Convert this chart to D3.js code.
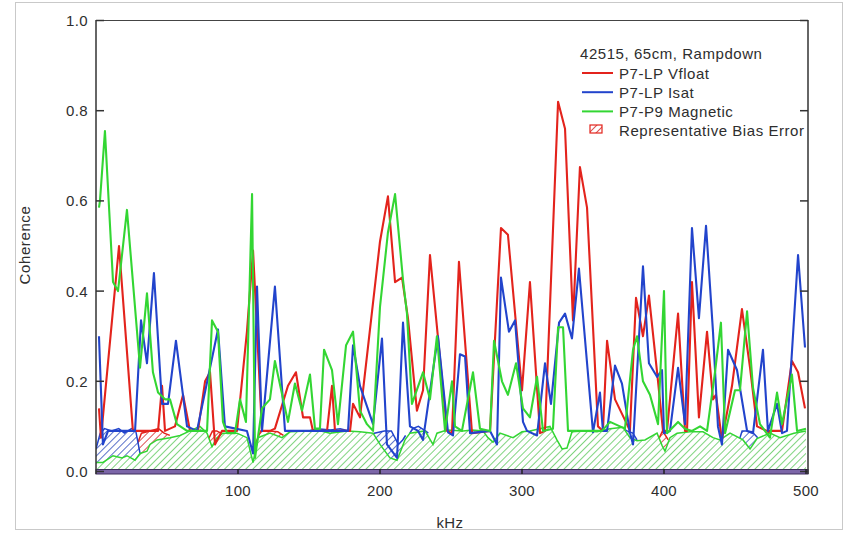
<!DOCTYPE html>
<html><head><meta charset="utf-8">
<script src="https://cdn.jsdelivr.net/npm/d3@7"></script>
<style>body{margin:0;background:#fff}svg{display:block}text{font-family:"Liberation Sans",Arial,sans-serif;fill:#2e2e2e}</style>
</head><body>
<script>
// ---- data (kHz, coherence) ----
const redKHz = [2.1,3.5,16.2,26,43.7,46.5,48.6,55.6,61.3,66.2,71.8,76.8,80.3,83.8,88.7,99.3,106.3,110.6,116.9,122.5,126,135.2,140.8,145.8,150.7,152.8,162.7,166.2,168.3,178.9,181,185.9,200,205.6,210.6,215.5,219.7,226,230.3,235.2,247.2,250.7,255.6,264.8,277.5,285.2,290.1,300,305.6,312.7,316.2,325.4,330.3,335.9,340.8,345.8,353.5,357,359.9,365.5,373.9,376,380.3,385.2,389.4,395.8,399.3,402.1,409.9,414.8,416.2,419.7,424.6,430.3,434.5,436.6,440.8,447.9,454.9,460.6,465.5,472.5,483.1,490.1,494.4,499.3];
const redCoh = [0.14,0.075,0.50,0.09,0.09,0.19,0.09,0.10,0.17,0.09,0.09,0.20,0.22,0.06,0.09,0.09,0.31,0.49,0.09,0.09,0.095,0.19,0.22,0.12,0.12,0.09,0.09,0.19,0.09,0.09,0.15,0.12,0.51,0.61,0.42,0.43,0.34,0.135,0.18,0.48,0.09,0.085,0.465,0.085,0.09,0.54,0.525,0.18,0.42,0.085,0.09,0.82,0.76,0.335,0.675,0.585,0.10,0.09,0.29,0.16,0.105,0.09,0.385,0.30,0.39,0.20,0.09,0.09,0.35,0.09,0.09,0.42,0.12,0.31,0.16,0.17,0.07,0.19,0.36,0.23,0.10,0.09,0.09,0.245,0.22,0.14];

const blueKHz = [2.1,4.9,8.5,27.5,31.7,35.9,40.8,46.5,50.7,56.3,64.1,71.1,85.9,90.8,106.3,110.6,113.4,116.9,126,133.1,177.5,181,185.9,195.1,201.4,204.9,212,216.2,221.1,226.8,230.3,240.8,247.9,251.4,256.3,259.9,263.4,277.5,282.4,285.2,290.8,295.1,300.7,303.5,310.6,316.2,320.4,326.1,330.3,335.2,340.1,350,354.9,357,359.9,365.5,370.4,376.1,378.2,385.2,389.4,395.1,398.6,400,404.2,409.9,414.8,419.7,424.6,429.6,434.5,438,440.8,445.1,451.4,458.5,462.7,469.7,473.2,479.6,483.1,486.6,494.4,499.3];
const blueCoh = [0.30,0.06,0.09,0.09,0.335,0.24,0.44,0.15,0.15,0.29,0.10,0.09,0.315,0.10,0.09,0.04,0.41,0.09,0.41,0.09,0.09,0.28,0.19,0.105,0.295,0.06,0.03,0.33,0.10,0.09,0.07,0.30,0.087,0.08,0.26,0.255,0.085,0.09,0.06,0.43,0.31,0.335,0.11,0.09,0.08,0.24,0.15,0.33,0.35,0.295,0.45,0.087,0.175,0.09,0.09,0.235,0.195,0.085,0.06,0.455,0.24,0.21,0.225,0.085,0.09,0.23,0.105,0.54,0.34,0.545,0.31,0.10,0.06,0.27,0.225,0.09,0.085,0.27,0.09,0.15,0.085,0.09,0.48,0.275];

const greenKHz = [2.1,2.8,6.3,12,15.5,21.8,31,35.9,40.1,43.7,48.6,52.1,57,64.1,78.2,81.7,85.9,89.4,92.3,97.9,101.4,105.6,109.9,112,116.9,122.5,126,135.2,140.1,145.1,150.7,154.2,157.7,160.6,166.2,170.4,176.1,181,185.9,190.8,195.1,200,205.6,210.6,216.2,219,222.5,230.3,235.2,240.1,245.8,250.7,252.8,257.7,265.5,270.4,277.5,280.3,285.9,290.1,295.8,300.7,305.6,310.6,314.8,321.8,325.4,328.9,332.4,347.9,356.3,362,372.5,378.2,381,385.2,390.1,395.8,400,402.1,409.9,414.8,419.7,425.4,430.3,435.9,440.1,443,450,453.5,458.5,462.7,467.6,474.6,479.6,483.1,490.1,493.7,500];
const greenCoh = [0.585,0.60,0.755,0.42,0.40,0.58,0.23,0.395,0.22,0.175,0.16,0.16,0.105,0.09,0.09,0.335,0.31,0.11,0.085,0.085,0.16,0.11,0.615,0.03,0.14,0.16,0.245,0.11,0.195,0.135,0.215,0.095,0.095,0.27,0.225,0.105,0.28,0.31,0.135,0.105,0.09,0.365,0.53,0.615,0.425,0.35,0.15,0.22,0.16,0.30,0.09,0.20,0.10,0.09,0.22,0.095,0.09,0.29,0.20,0.17,0.24,0.14,0.12,0.21,0.09,0.095,0.32,0.32,0.09,0.09,0.09,0.11,0.095,0.27,0.30,0.20,0.17,0.105,0.40,0.085,0.11,0.095,0.09,0.10,0.09,0.22,0.33,0.085,0.18,0.18,0.355,0.185,0.105,0.075,0.175,0.105,0.215,0.09,0.095];

// representative bias error (top of hatched bands); null = gap
const greenBiasKHz = [0,4.9,12,18.3,21.8,27.5,31,35.9,38,43,52.1,59.2,66.2,73.2,78.2,81.7,85.2,89.4,99.3,106.3,110.6,114.1,122.5,131,136.6,148.6,155.6,164.8,176.8,185.9,195.1,200,207,212,217.6,221.1,231.7,237.3,240.1,247.2,258.5,264.8,272.5,276,279.6,284.5,293.7,300,305.6,319.7,324.6,328.2,331.7,335.2,343,352.8,362,371.1,376,381,386.6,395.1,398.6,400.7,404.2,409.2,418.3,427.5,434.5,439.4,446.5,455.6,460.6,465.5,474.6,481.7,491.5,500];
const greenBias = [0.02,0.02,0.035,0.03,0.035,0.025,0.04,0.045,0.06,0.07,0.075,0.08,0.09,0.10,0.085,0.055,0.075,0.085,0.085,0.075,0.02,0.075,0.085,0.075,0.088,0.09,0.092,0.085,0.09,0.088,0.085,0.06,0.03,0.025,0.07,0.085,0.09,0.06,0.085,0.092,0.09,0.092,0.09,0.075,0.065,0.085,0.075,0.088,0.09,0.10,0.07,0.05,0.052,0.088,0.09,0.088,0.095,0.098,0.075,0.068,0.07,0.085,0.058,0.045,0.075,0.085,0.088,0.088,0.075,0.07,0.085,0.07,0.05,0.073,0.085,0.075,0.085,0.09];

const blueBiasKHz = [0,3,6,11,16,20,25,28,31,null,146,150,156,165,172,178,181,null,194,196,203,208,213,216,218,null,221,223,227,232,234,null,369,371,374,378,381,null,453,455,458,462,466];
const blueBias = [0.05,0.085,0.095,0.09,0.095,0.085,0.095,0.09,0.04,null,0.085,0.09,0.095,0.092,0.095,0.09,0.085,null,0.08,0.085,0.09,0.09,0.06,0.07,0.08,null,0.085,0.095,0.1,0.09,0.085,null,0.09,0.095,0.09,0.085,0.07,null,0.07,0.09,0.09,0.088,0.075];

const redBiasKHz = [29,32,38,44,48,52,null,79,82,85,88,null,112,116,122,128,132,null,396,399,403,null,470,474,478];
const redBias = [0.06,0.085,0.09,0.095,0.085,0.08,null,0.07,0.09,0.09,0.085,null,0.06,0.09,0.09,0.088,0.08,null,0.07,0.09,0.07,null,0.07,0.09,0.075];

const yTicks = [0,0.2,0.4,0.6,0.8,1.0];
const xTicks = [100,200,300,400,500];
const legendTitle = "42515, 65cm, Rampdown";
const seriesNames = ["P7-LP Vfloat","P7-LP Isat","P7-P9 Magnetic"];
const biasName = "Representative Bias Error";

// ---- drawing ----
const W = 844, H = 534;
const colors = {red:"#e3231c", blue:"#2244cc", green:"#33d633"};
const hatchCol = {red:"#d84040", blue:"#4862c4", green:"#72d072"};
const svg = d3.select("body").append("svg").attr("width",W).attr("height",H);
const defs = svg.append("defs");
for (const k of ["red","blue","green"]) {
  const p = defs.append("pattern").attr("id","h-"+k).attr("patternUnits","userSpaceOnUse")
    .attr("width",5).attr("height",5).attr("patternTransform","rotate(45)");
  p.append("rect").attr("width",5).attr("height",5).attr("fill","#fff");
  p.append("line").attr("x1",0).attr("y1",0).attr("x2",0).attr("y2",5)
    .attr("stroke",hatchCol[k]).attr("stroke-width",1.8);
}
// outer frame
svg.append("rect").attr("x",15.5).attr("y",2.5).attr("width",827).attr("height",527)
  .attr("fill","none").attr("stroke","#c9c9c9");

const x = d3.scaleLinear().domain([0,500]).range([96,806]);
const y = d3.scaleLinear().domain([0,1]).range([471.5,20.5]);
const L = 96, R = 808;

const plot = svg.append("g");
plot.append("defs").append("clipPath").attr("id","clip").append("rect")
  .attr("x",L).attr("y",20).attr("width",R-L).attr("height",452);
const g = plot.append("g").attr("clip-path","url(#clip)");

function zipPts(xs, ys){ return xs.map((v,i)=>[v, ys[i]]); }
const area = d3.area().defined(d=>d[0]!==null).x(d=>x(d[0])).y0(y(0)).y1(d=>y(d[1]));
const line = d3.line().defined(d=>d[0]!==null).x(d=>x(d[0])).y(d=>y(d[1]));

function band(xs, ys, k){
  const pts = zipPts(xs, ys);
  g.append("path").datum(pts).attr("d",area).attr("fill","url(#h-"+k+")");
  g.append("path").datum(pts).attr("d",line).attr("fill","none")
    .attr("stroke",colors[k]).attr("stroke-width",1.5);
}
band(redBiasKHz, redBias, "red");
band(blueBiasKHz, blueBias, "blue");
band(greenBiasKHz, greenBias, "green");

function series(xs, ys, k){
  g.append("path").datum(zipPts(xs, ys)).attr("d",line).attr("fill","none")
    .attr("stroke",colors[k]).attr("stroke-width",2.1).attr("stroke-linejoin","round");
}
series(redKHz, redCoh, "red");
series(blueKHz, blueCoh, "blue");
series(greenKHz, greenCoh, "green");

// bottom purple baseline band
svg.append("rect").attr("x",L).attr("y",469.5).attr("width",R-L).attr("height",4.5)
  .attr("fill","#7c66a8").attr("stroke","#3d2c5c").attr("stroke-width",1);

// box axes
svg.append("line").attr("x1",L).attr("x2",R).attr("y1",20.5).attr("y2",20.5).attr("stroke","#444").attr("stroke-width",1);
svg.append("line").attr("x1",L).attr("x2",L).attr("y1",20).attr("y2",474).attr("stroke","#333").attr("stroke-width",1.5);
svg.append("line").attr("x1",R).attr("x2",R).attr("y1",20).attr("y2",474).attr("stroke","#333").attr("stroke-width",1.5);

// y axis ticks & labels
const yAx = svg.append("g");
yTicks.forEach(t=>{
  yAx.append("line").attr("x1",L).attr("x2",L+8).attr("y1",y(t)).attr("y2",y(t)).attr("stroke","#333").attr("stroke-width",1.5);
  yAx.append("line").attr("x1",R-8).attr("x2",R).attr("y1",y(t)).attr("y2",y(t)).attr("stroke","#333").attr("stroke-width",1.5);
  yAx.append("text").attr("x",88).attr("y",y(t)+5.5).attr("text-anchor","end")
    .attr("font-size",15).attr("letter-spacing",0.4).text(d3.format(".1f")(t));
});
// x axis ticks & labels
xTicks.forEach(t=>{
  svg.append("line").attr("x1",x(t)).attr("x2",x(t)).attr("y1",474).attr("y2",469).attr("stroke","#222").attr("stroke-width",1.5);
  svg.append("text").attr("x",x(t)).attr("y",496).attr("text-anchor","middle")
    .attr("font-size",15).attr("letter-spacing",0.3).text(t);
});
svg.append("text").attr("x",450).attr("y",528).attr("text-anchor","middle").attr("font-size",15).attr("letter-spacing",0.4).text("kHz");
svg.append("text").attr("transform","translate(30,245) rotate(-90)").attr("text-anchor","middle")
  .attr("font-size",15).attr("letter-spacing",0.6).text("Coherence");

// legend
const lg = svg.append("g");
lg.append("text").attr("x",580).attr("y",59).attr("font-size",15).attr("letter-spacing",0.55).text(legendTitle);
["red","blue","green"].forEach((k,i)=>{
  const yy = 73 + i*19.2;
  lg.append("line").attr("x1",582).attr("x2",613).attr("y1",yy).attr("y2",yy)
    .attr("stroke",colors[k]).attr("stroke-width",2);
  lg.append("text").attr("x",619).attr("y",yy+5.5).attr("font-size",15).attr("letter-spacing",0.55).text(seriesNames[i]);
});
lg.append("rect").attr("x",590).attr("y",125).attr("width",12).attr("height",8)
  .attr("fill","url(#h-red)").attr("stroke",colors.red).attr("stroke-width",1.2);
lg.append("text").attr("x",619).attr("y",136).attr("font-size",15).attr("letter-spacing",0.55).text(biasName);
</script>
</body></html>
